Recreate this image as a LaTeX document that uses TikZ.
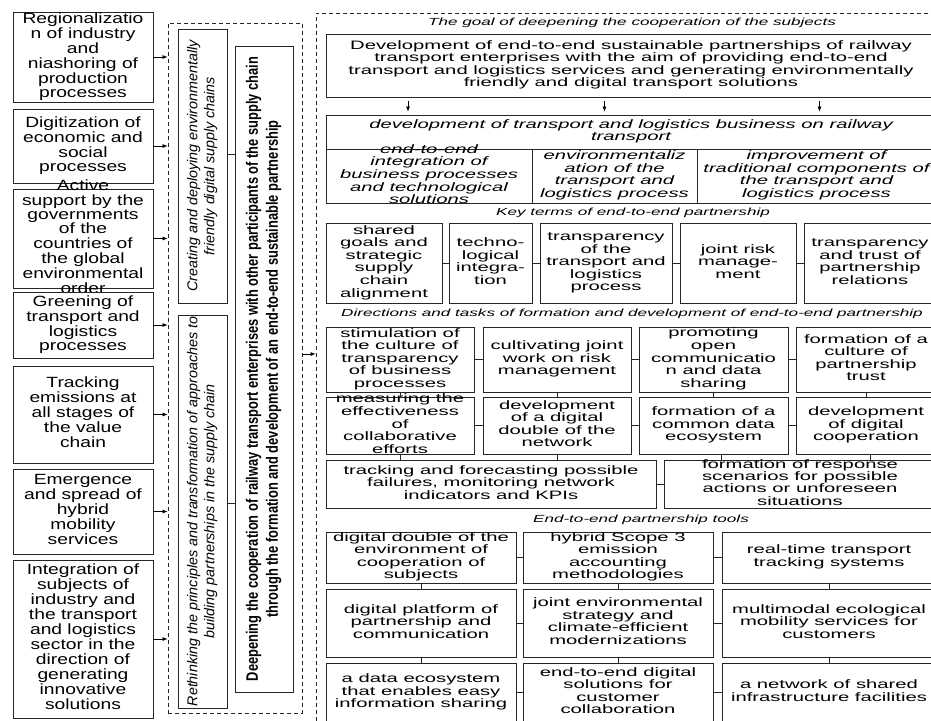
\documentclass[tikz,border=0pt]{standalone}
\usepackage{fontspec}
\setmainfont{Liberation Sans}[FakeStretch=1.66]
\newfontfamily\sidefont{Liberation Sans}[FakeStretch=1.3]
\newfontfamily\turnfont{Liberation Sans}
\newfontfamily\deepfont{Liberation Sans}[FakeStretch=0.78]
\usepackage{tikz}
\usetikzlibrary{positioning,arrows.meta}
\colorlet{boxdraw}{black!85}
\newcommand{\celltext}[1]{\makebox[0pt]{\raisebox{-.25em}[0pt][0pt]{\begin{tabular}{@{}c@{}}#1\end{tabular}}}}

\begin{document}
\begin{tikzpicture}[x=1pt, y=-1pt, every node/.style={inner sep=0pt},
    sidebox/.style={draw=boxdraw, line width=.8pt, minimum width=140pt, font=\sidefont\fontsize{14.8}{14.2}\selectfont},
    cellbox/.style={draw=boxdraw, line width=.8pt, font=\fontsize{12.2}{12.5}\selectfont},
    turnbox/.style={draw=boxdraw, line width=.8pt, rotate=90, font=\turnfont\itshape\fontsize{14.3}{17}\selectfont},
    dashbox/.style={draw=boxdraw, line width=.8pt, dash pattern=on 4pt off 3pt},
    capt/.style={font=\itshape\fontsize{10.3}{11}\selectfont},
    tip/.style={-{Latex[length=5pt,width=4pt]}, line width=.7pt},
    link/.style={draw=boxdraw, line width=.7pt}]
  \useasboundingbox (0,0) rectangle (931,720);

  % dashed frames
  \node[dashbox, minimum width=134pt, minimum height=690pt] (midbox) at (235,368) {};
  \node[dashbox, minimum width=624pt, minimum height=715pt] (rightbox) at (628,370.5) {};

  % driving factors
  \node[sidebox, minimum height=90pt] (reg) at (83,57) {\celltext{Regionalizatio\\n of industry\\and\\niashoring of\\production\\processes}};
  \node[sidebox, minimum height=74pt] (digit) at (83,146) {\celltext{Digitization of\\economic and\\social\\processes}};
  \node[sidebox, minimum height=99pt, font=\sidefont\fontsize{14.8}{13.6}\selectfont] (gov) at (83,238.5) {\celltext{Active\\support by the\\governments\\of the\\countries of\\the global\\environmental\\order}};
  \node[sidebox, minimum height=66pt] (green) at (83,325) {\celltext{Greening of\\transport and\\logistics\\processes}};
  \node[sidebox, minimum height=97pt] (track) at (83,414.5) {\celltext{Tracking\\emissions at\\all stages of\\the value\\chain}};
  \node[sidebox, minimum height=85pt] (hybrid) at (83,511.5) {\celltext{Emergence\\and spread of\\hybrid\\mobility\\services}};
  \node[sidebox, minimum height=158pt] (integ) at (83,639) {\celltext{Integration of\\subjects of\\industry and\\the transport\\and logistics\\sector in the\\direction of\\generating\\innovative\\solutions}};
  \foreach \n in {reg,digit,gov,green,track,hybrid,integ}
    \draw[tip] (\n.east) -- (\n.east -| midbox.west);

  % rethinking the supply chain
  \node[turnbox, minimum width=274pt, minimum height=49pt] (create) at (202.5,166) {\celltext{Creating and deploying environmentally\\friendly digital supply chains}};
  \node[turnbox, minimum width=393pt, minimum height=49pt] (rethink) at (202.5,511.5) {\celltext{Rethinking the principles and transformation of approaches to\\building partnerships in the supply chain}};
  \node[draw=boxdraw, line width=.8pt, rotate=90, minimum width=646pt, minimum height=58pt, font=\deepfont\bfseries\fontsize{16.5}{20}\selectfont] (deep) at (264,369) {\celltext{Deepening the cooperation of railway transport enterprises with other participants of the supply chain\\through the formation and development of an end-to-end sustainable partnership}};
  \draw[link] ([yshift=12pt]create.south) -- ([yshift=12pt]create.south -| deep.north);
  \draw[link] ([yshift=8.5pt]rethink.south) -- ([yshift=8.5pt]rethink.south -| deep.north);
  \draw[tip] ([yshift=14pt]midbox.east) -- ([yshift=14pt]midbox.east -| rightbox.west);

  % goal
  \node[capt] (capgoal) at (632,23) {The goal of deepening the cooperation of the subjects};
  \node[cellbox, minimum width=610pt, minimum height=63pt, font=\fontsize{12.2}{12.2}\selectfont] (dev) at (631,65.5) {\celltext{Development of end-to-end sustainable partnerships of railway\\transport enterprises with the aim of providing end-to-end\\transport and logistics services and generating environmentally\\friendly and digital transport solutions}};
  \node[cellbox, minimum width=610pt, minimum height=34pt, font=\itshape\fontsize{12.2}{11.5}\selectfont] (biz) at (631,132) {\celltext{development of transport and logistics business on railway\\transport}};
  \node[cellbox, minimum width=206pt, minimum height=54pt, font=\itshape\fontsize{12.2}{12.7}\selectfont] (subint) at (429,176) {\celltext{end-to-end\\integration of\\business processes\\and technological\\solutions}};
  \node[cellbox, minimum width=165pt, minimum height=54pt, font=\itshape\fontsize{12.2}{12.7}\selectfont] (subeco) at (614.5,176) {\celltext{environmentaliz\\ation of the\\transport and\\logistics process}};
  \node[cellbox, minimum width=239pt, minimum height=54pt, font=\itshape\fontsize{12.2}{12.7}\selectfont] (subimp) at (816.5,176) {\celltext{improvement of\\traditional components of\\the transport and\\logistics process}};
  \foreach \s/\dx in {subint/-21,subeco/-10,subimp/3}
    \draw[tip, shorten <=4pt, shorten >=3pt] ([xshift=\dx pt]dev.south -| \s.north) -- ([xshift=\dx pt]biz.north -| \s.north);

  % key terms
  \node[capt] (capkey) at (633,213) {Key terms of end-to-end partnership};
  \node[cellbox, minimum width=116pt, minimum height=80pt] (kgoal) at (384,263) {\celltext{shared\\goals and\\strategic\\supply\\chain\\alignment}};
  \node[cellbox, minimum width=83pt, minimum height=80pt] (ktech) at (490.5,263) {\celltext{techno-\\logical\\integra-\\tion}};
  \node[cellbox, minimum width=132pt, minimum height=80pt] (kproc) at (606,263) {\celltext{transparency\\of the\\transport and\\logistics\\process}};
  \node[cellbox, minimum width=116pt, minimum height=80pt] (krisk) at (738,263) {\celltext{joint risk\\manage-\\ment}};
  \node[cellbox, minimum width=132pt, minimum height=80pt] (ktrust) at (870,263) {\celltext{transparency\\and trust of\\partnership\\relations}};
  \draw[link] (kgoal) -- (ktech) -- (kproc) -- (krisk) -- (ktrust);

  % directions and tasks
  \node[capt] (capdir) at (632,314) {Directions and tasks of formation and development of end-to-end partnership};
  \node[cellbox, minimum width=148pt, minimum height=65pt] (dstim) at (400,359.5) {\celltext{stimulation of\\the culture of\\transparency\\of business\\processes}};
  \node[cellbox, minimum width=148pt, minimum height=65pt] (dcult) at (557,359.5) {\celltext{cultivating joint\\work on risk\\management}};
  \node[cellbox, minimum width=149pt, minimum height=65pt] (dcomm) at (713.5,359.5) {\celltext{promoting\\open\\communicatio\\n and data\\sharing}};
  \node[cellbox, minimum width=140pt, minimum height=65pt] (dtrust) at (866,359.5) {\celltext{formation of a\\culture of\\partnership\\trust}};
  \node[cellbox, minimum width=148pt, minimum height=57pt] (dmeas) at (400,425.5) {\celltext{measuring the\\effectiveness\\of\\collaborative\\efforts}};
  \node[cellbox, minimum width=148pt, minimum height=57pt] (ddouble) at (557,425.5) {\celltext{development\\of a digital\\double of the\\network}};
  \node[cellbox, minimum width=149pt, minimum height=57pt] (dsyst) at (713.5,425.5) {\celltext{formation of a\\common data\\ecosystem}};
  \node[cellbox, minimum width=140pt, minimum height=57pt] (ddigi) at (866,425.5) {\celltext{development\\of digital\\cooperation}};
  \node[cellbox, minimum width=330pt, minimum height=48pt] (dtrack) at (491,484) {\celltext{tracking and forecasting possible\\failures, monitoring network\\indicators and KPIs}};
  \node[cellbox, minimum width=272pt, minimum height=48pt, font=\fontsize{12.2}{11.8}\selectfont] (dresp) at (800,484) {\celltext{formation of response\\scenarios for possible\\actions or unforeseen\\situations}};
  \draw[link] (dstim) -- (dcult) -- (dcomm) -- (dtrust);
  \draw[link] (dmeas) -- (ddouble) -- (dsyst) -- (ddigi);
  \draw[link] (dstim) -- (dmeas);
  \draw[link] (dcult) -- (ddouble);
  \draw[link] (dcomm) -- (dsyst);
  \draw[link] (dtrust) -- (ddigi);
  \draw[link] (dmeas.south) -- (dmeas.south |- dtrack.north);
  \draw[link] (ddouble.south) -- (ddouble.south |- dtrack.north);
  \draw[link] ([xshift=8pt]dsyst.south) -- ([xshift=8pt]dsyst.south |- dresp.north);
  \draw[link] ([xshift=4pt]ddigi.south) -- ([xshift=4pt]ddigi.south |- dresp.north);
  \draw[link] (dtrack) -- (dresp);

  % tools
  \node[capt] (captool) at (641,520) {End-to-end partnership tools};
  \node[cellbox, minimum width=190pt, minimum height=51pt] (tdouble) at (421,557.5) {\celltext{digital double of the\\environment of\\cooperation of\\subjects}};
  \node[cellbox, minimum width=190pt, minimum height=51pt] (tscope) at (618,557.5) {\celltext{hybrid Scope 3\\emission\\accounting\\methodologies}};
  \node[cellbox, minimum width=214pt, minimum height=51pt] (treal) at (829,557.5) {\celltext{real-time transport\\tracking systems}};
  \node[cellbox, minimum width=190pt, minimum height=68pt] (tplat) at (421,623) {\celltext{digital platform of\\partnership and\\communication}};
  \node[cellbox, minimum width=190pt, minimum height=68pt] (tjoint) at (618,623) {\celltext{joint environmental\\strategy and\\climate-efficient\\modernizations}};
  \node[cellbox, minimum width=214pt, minimum height=68pt] (tmulti) at (829,623) {\celltext{multimodal ecological\\mobility services for\\customers}};
  \node[cellbox, minimum width=190pt, minimum height=59pt] (tdata) at (421,692.5) {\celltext{a data ecosystem\\that enables easy\\information sharing}};
  \node[cellbox, minimum width=190pt, minimum height=59pt] (tsol) at (618,692.5) {\celltext{end-to-end digital\\solutions for\\customer\\collaboration}};
  \node[cellbox, minimum width=214pt, minimum height=59pt] (tnet) at (829,692.5) {\celltext{a network of shared\\infrastructure facilities}};
  \draw[link] (tdouble) -- (tscope) -- (treal);
  \draw[link] (tplat) -- (tjoint) -- (tmulti);
  \draw[link] (tdata) -- (tsol) -- (tnet);
  \draw[link] (tdouble) -- (tplat) -- (tdata);
  \draw[link] (tscope) -- (tjoint) -- (tsol);
  \draw[link] (treal) -- (tmulti) -- (tnet);
\end{tikzpicture}
\end{document}
